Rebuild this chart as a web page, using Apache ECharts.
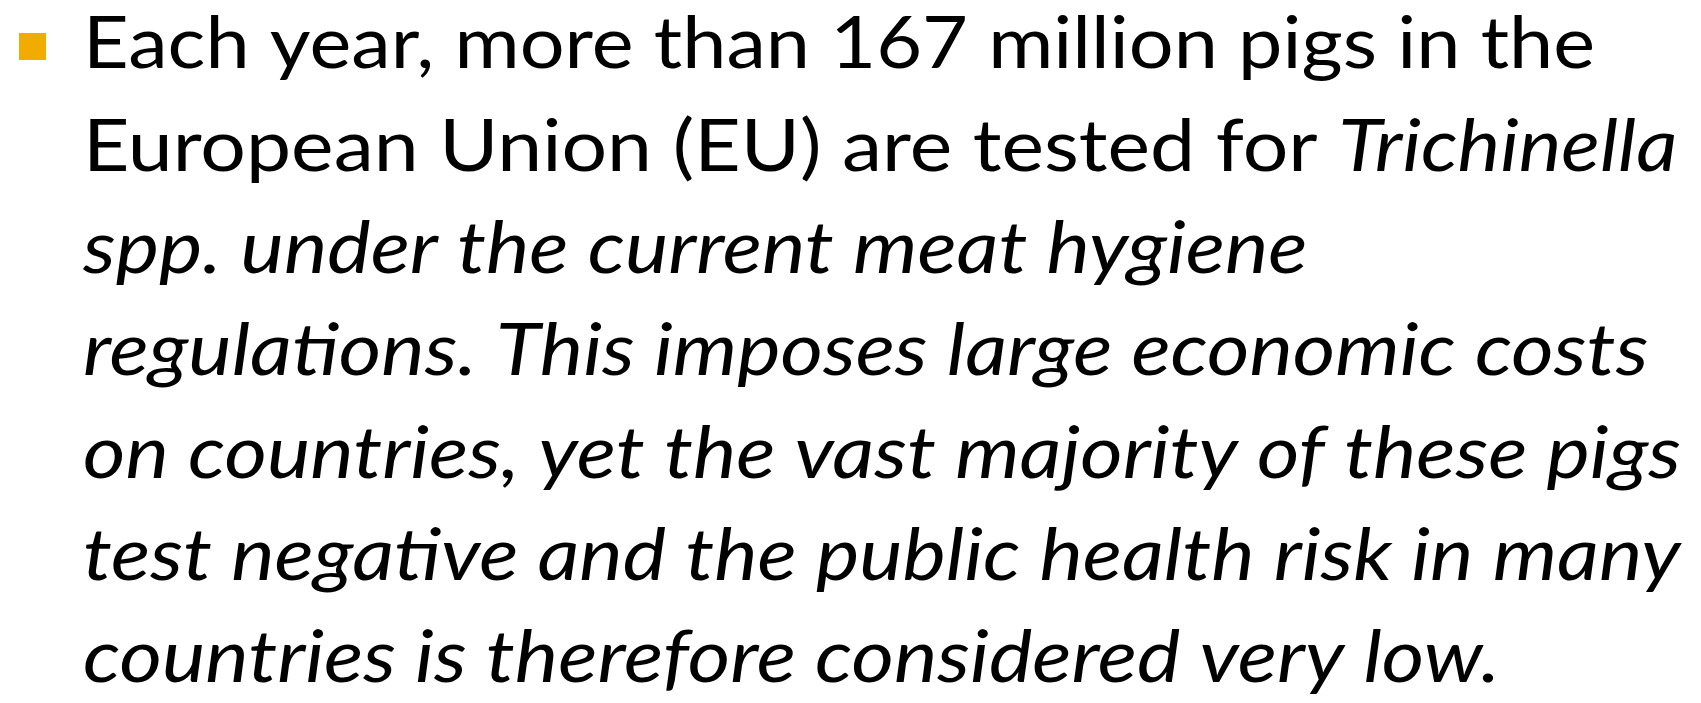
<!DOCTYPE html>
<html><head><meta charset="utf-8">
<script src="https://cdn.jsdelivr.net/npm/echarts@6/dist/echarts.min.js"></script>
<style>html,body{margin:0;padding:0;background:#fff}#c{width:1701px;height:703px}</style>
</head><body><div id="c"></div>
<script>
// Text content of the slide (one bullet, wrapped as in the original)
const bulletLines = [
  "Each year, more than 167 million pigs in the",
  "European Union (EU) are tested for {i|Trichinella}",
  "{i|spp. under the current meat hygiene}",
  "{i|regulations. This imposes large economic costs}",
  "{i|on countries, yet the vast majority of these pigs}",
  "{i|test negative and the public health risk in many}",
  "{i|countries is therefore considered very low.}"
];
const bulletColor = "#F2AC00";

const FONT = "Lato";
const SIZE = 71;
const LEFT = 83, FIRST_BASE = 71, STEP = 102.3;

// widen the substitute font to the original's text measure
const ctx = document.createElement('canvas').getContext('2d');
ctx.font = SIZE + 'px ' + FONT;
const wUp = ctx.measureText("Each year, more than 167 million pigs in the").width;
ctx.font = 'italic ' + SIZE + 'px ' + FONT;
const wIt = ctx.measureText("on countries, yet the vast majority of these pigs").width;
const sUp = 1512 / wUp, sIt = 1598 / wIt;

const chart = echarts.init(document.getElementById('c'), null, {renderer: 'canvas'});
const elements = [{
  type: 'rect', shape: {x: 19, y: 33, width: 27, height: 27},
  style: {fill: bulletColor}
}];
bulletLines.forEach((t, k) => {
  const italic = t.startsWith('{i|');
  elements.push({
    type: 'text', x: LEFT, y: FIRST_BASE + k * STEP - SIZE * 0.36,
    scaleX: italic ? sIt : (k === 1 ? (sUp + sIt) / 2 : sUp),
    style: {
      text: t, fill: '#000', font: SIZE + 'px ' + FONT,
      verticalAlign: 'middle', align: 'left',
      rich: {i: {fontStyle: 'italic', fontFamily: FONT, fontSize: SIZE, fill: '#000'}}
    }
  });
});
chart.setOption({animation: false, graphic: {elements}});
</script></body></html>
